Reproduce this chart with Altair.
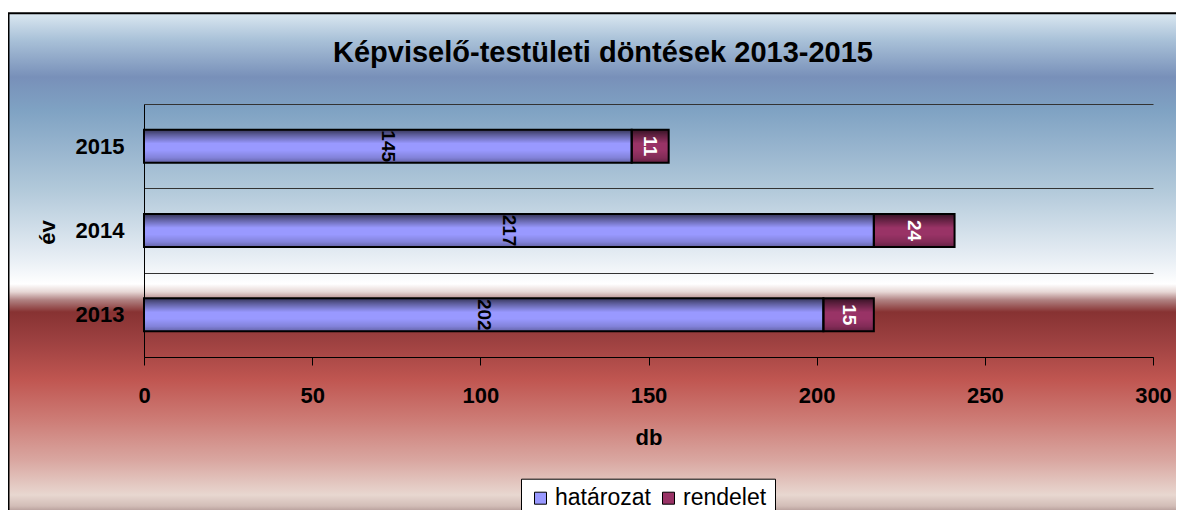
import altair as alt
import pandas as pd

years = ["2015", "2014", "2013"]
series_names = ["határozat", "rendelet"]
hatarozat = [145, 217, 202]
rendelet = [11, 24, 15]
x_ticks = [0, 50, 100, 150, 200, 250, 300]
chart_title = "Képviselő-testületi döntések 2013-2015"

rows = []
for y, h, r in zip(years, hatarozat, rendelet):
    rows.append({"year": y, "series": "határozat", "value": h, "start": 0, "end": h, "mid": h / 2})
    rows.append({"year": y, "series": "rendelet", "value": r, "start": h, "end": h + r, "mid": h + r / 2})
df = pd.DataFrame(rows)

FONT = "Liberation Sans"

# background gradient (page y positions -> offsets)
top_y, bot_y = 13.3, 528.0
bg_stops_px = [
    (13.3, "#dbe8f1"), (40, "#a9c1d8"), (77, "#7890b9"), (110, "#7fa2c3"),
    (190, "#b2c9da"), (260, "#e9eff5"), (284, "#ffffff"), (292, "#e6d6d4"),
    (300, "#b08282"), (312, "#873232"), (340, "#9c4040"), (380, "#c05651"),
    (420, "#cd7c76"), (460, "#d9a6a0"), (495, "#e8d7d0"), (506, "#d2bdb7"),
    (518, "#8f7272"), (528, "#8f7272"),
]
bg_stops = [alt.GradientStop(offset=(p - top_y) / (bot_y - top_y), color=c) for p, c in bg_stops_px]
bg_grad = alt.LinearGradient(gradient="linear", stops=bg_stops, x1=0, x2=0, y1=0, y2=1)

bar_grad = alt.LinearGradient(
    gradient="linear",
    stops=[
        alt.GradientStop(offset=0.0, color="rgba(0,0,0,0.65)"),
        alt.GradientStop(offset=0.15, color="rgba(0,0,0,0.4)"),
        alt.GradientStop(offset=0.42, color="rgba(0,0,0,0)"),
        alt.GradientStop(offset=0.62, color="rgba(0,0,0,0)"),
        alt.GradientStop(offset=0.85, color="rgba(0,0,0,0.15)"),
        alt.GradientStop(offset=1.0, color="rgba(0,0,0,0.35)"),
    ],
    x1=0, x2=0, y1=0, y2=1,
)

one = pd.DataFrame({"t": [chart_title]})

bg = alt.Chart(one).mark_rect(
    fill=bg_grad, stroke="black", strokeWidth=2
).encode(
    x=alt.value(-135.5), x2=alt.value(1060), y=alt.value(-90.7), y2=alt.value(424)
)

title = alt.Chart(one).mark_text(
    font=FONT, fontSize=29, fontWeight="bold", color="black", align="center", baseline="alphabetic"
).encode(
    x=alt.value(459), y=alt.value(-42.3), text="t:N"
)

y_enc = alt.Y(
    "year:N",
    sort=years,
    scale=alt.Scale(domain=years, paddingInner=0, paddingOuter=0),
    axis=alt.Axis(
        title="év", titleFontSize=22, titleFont=FONT, titleFontWeight="bold",
        titleX=-97, titleY=128, titleBaseline="middle", titleAngle=-90, titleColor="black",
        labelFontSize=22, labelFont=FONT, labelFontWeight="bold", labelColor="black",
        labelPadding=20, ticks=False, tickBand="extent",
        grid=True, gridColor="#333333", gridWidth=1, gridOpacity=1,
        domainColor="black", domainWidth=1, zindex=1,
    ),
)

x_scale = alt.Scale(domain=[0, 300], nice=False)
x_enc = alt.X(
    "start:Q",
    scale=x_scale,
    axis=alt.Axis(
        title="db", titleFontSize=22, titleFont=FONT, titleFontWeight="bold", titleColor="black",
        titleY=80, titleBaseline="middle",
        values=x_ticks, format="d", labelFlush=False,
        labelFontSize=22, labelFont=FONT, labelFontWeight="bold", labelColor="black",
        labelPadding=20, tickSize=8, tickColor="black", tickWidth=1,
        grid=False, domainColor="black", domainWidth=1, zindex=1,
    ),
)

base = alt.Chart(df)

bars = base.mark_bar(size=33).encode(
    y=y_enc,
    x=x_enc,
    x2="end:Q",
    color=alt.Color(
        "series:N",
        scale=alt.Scale(domain=series_names, range=["#9999ff", "#993366"]),
        legend=alt.Legend(
            title=None, orient="none", legendX=377, legendY=374.7, direction="horizontal",
            fillColor="white", strokeColor="black", padding=8, gridAlign="none",
            symbolType="square", symbolSize=144, symbolStrokeColor="black", symbolStrokeWidth=1,
            labelFontSize=23, labelFont=FONT, labelColor="black", labelOffset=3, columnPadding=6,
        ),
    ),
)

shade = base.mark_bar(size=33, fill=bar_grad, stroke="black", strokeWidth=2).encode(
    y=alt.Y("year:N", sort=years),
    x=alt.X("start:Q", scale=x_scale),
    x2="end:Q",
)

labels = base.mark_text(
    angle=90, fontSize=19, font=FONT, fontWeight="bold", align="center", baseline="middle"
).encode(
    y=alt.Y("year:N", sort=years),
    x=alt.X("mid:Q", scale=x_scale),
    text=alt.Text("value:Q", format="d"),
    color=alt.condition(alt.datum.series == "rendelet", alt.value("white"), alt.value("black")),
)

chart = alt.layer(bg, title, bars, shade, labels).properties(
    width=1009,
    height=253,
    autosize=alt.AutoSizeParams(type="none"),
    padding={"left": 136, "top": 96, "right": 23, "bottom": 153},
).configure_view(stroke=None).configure(background="white")

chart.save("out.html", embed_options={"renderer": "svg", "actions": False})
